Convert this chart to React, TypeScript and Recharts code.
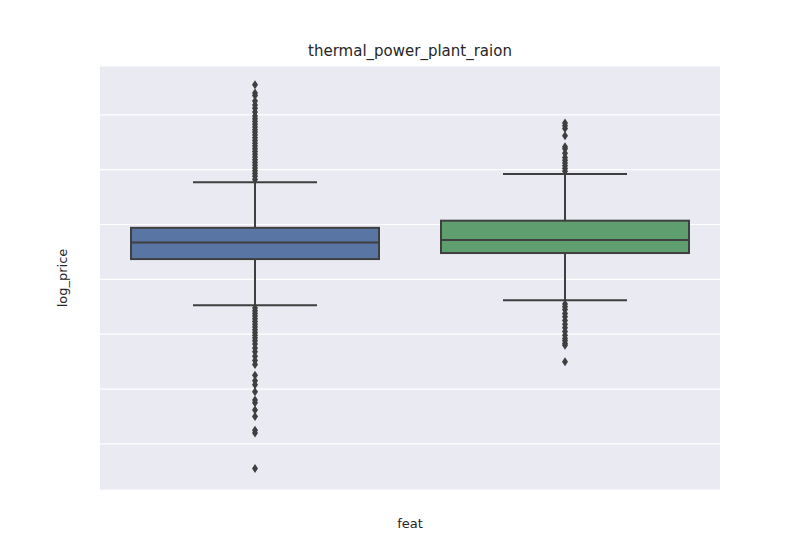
import React from 'react';
import {
  ComposedChart,
  Bar,
  Scatter,
  XAxis,
  YAxis,
  CartesianGrid,
} from 'recharts';

const categories = ['no', 'yes'];
const whiskerLow = [14.53, 14.62];
const whiskerHigh = [16.77, 16.92];
const q1 = [15.37, 15.48];
const median = [15.67, 15.72];
const q3 = [15.94, 16.07];
const boxColors = ['#5875a4', '#5f9e6e'];
const yTicks = [12, 13, 14, 15, 16, 17, 18];

const outliersNo = [
  16.82, 16.88, 16.93, 16.98, 17.03, 17.08, 17.13, 17.18, 17.23, 17.28, 17.33, 17.38,
  17.43, 17.48, 17.53, 17.58, 17.63, 17.68, 17.73, 17.78, 17.83, 17.88, 17.93, 17.98,
  18.05, 18.12, 18.18, 18.25, 18.35, 18.4, 18.55,
  14.48, 14.43, 14.38, 14.33, 14.28, 14.23, 14.18, 14.13, 14.08, 14.03, 13.98, 13.93,
  13.88, 13.82, 13.75, 13.68, 13.6, 13.52, 13.45, 13.25, 13.15, 13.08, 12.95, 12.8,
  12.75, 12.62, 12.5, 12.25, 12.2, 11.55,
];
const outliersYes = [
  16.97, 17.02, 17.07, 17.12, 17.17, 17.22, 17.3, 17.38, 17.42, 17.62, 17.75, 17.8, 17.85,
  14.55, 14.5, 14.45, 14.38, 14.32, 14.25, 14.18, 14.12, 14.05, 13.98, 13.92, 13.88,
  13.83, 13.8, 13.5,
];

const boxData = categories.map((cat, i) => ({
  cat,
  range: [whiskerLow[i], whiskerHigh[i]],
  q1: q1[i],
  med: median[i],
  q3: q3[i],
  color: boxColors[i],
}));

const outlierSets = [outliersNo, outliersYes].map((vals, i) =>
  vals.map(v => ({ cat: categories[i], v }))
);

const line = '#3f3f3f';

const BoxShape = (props: any) => {
  const { x, y, width, height, payload } = props;
  const lo = payload.range[0];
  const hi = payload.range[1];
  const py = (v: number) => y + ((hi - v) * height) / (hi - lo);
  const cx = x + width / 2;
  const capW = width / 2;
  return (
    <g>
      <line x1={cx} x2={cx} y1={y} y2={py(payload.q3)} stroke={line} strokeWidth={2} />
      <line x1={cx} x2={cx} y1={py(payload.q1)} y2={y + height} stroke={line} strokeWidth={2} />
      <line x1={cx - capW / 2} x2={cx + capW / 2} y1={y} y2={y} stroke={line} strokeWidth={2} />
      <line x1={cx - capW / 2} x2={cx + capW / 2} y1={y + height} y2={y + height} stroke={line} strokeWidth={2} />
      <rect x={x} y={py(payload.q3)} width={width} height={py(payload.q1) - py(payload.q3)}
        fill={payload.color} stroke={line} strokeWidth={2} />
      <line x1={x} x2={x + width} y1={py(payload.med)} y2={py(payload.med)} stroke={line} strokeWidth={2} />
    </g>
  );
};

const Diamond = (props: any) => {
  const { cx, cy } = props;
  return <path d={`M${cx},${cy - 4.5}L${cx + 3},${cy}L${cx},${cy + 4.5}L${cx - 3},${cy}Z`} fill={line} />;
};

const tickStyle = { fontFamily: 'DejaVu Sans', fontSize: 13, fill: '#262626' };

export default function App() {
  return (
    <div style={{ position: 'absolute', left: 0, top: 0, width: 800, height: 550, background: '#fff', fontFamily: 'DejaVu Sans' }}>
      <div style={{ position: 'absolute', top: 42, width: 820, textAlign: 'center', fontSize: 15, color: '#262626' }}>
        thermal_power_plant_raion
      </div>
      <div style={{ position: 'absolute', left: 62, top: 278, transform: 'translate(-50%, -50%) rotate(-90deg)', fontSize: 13, color: '#262626' }}>
        log_price
      </div>
      <div style={{ position: 'absolute', top: 516, left: 100, width: 620, textAlign: 'center', fontSize: 13, color: '#262626' }}>
        feat
      </div>
      <ComposedChart width={800} height={550} data={boxData}
        margin={{ top: 66, left: 100, right: 80, bottom: 60 }} barCategoryGap="10%">
        <CartesianGrid fill="#eaeaf2" stroke="#ffffff" strokeWidth={1.2} vertical={false} />
        <XAxis dataKey="cat" type="category" allowDuplicatedCategory={false} axisLine={false} tickLine={false}
          tick={tickStyle} height={0} tickMargin={10} />
        <YAxis type="number" domain={[11.16, 18.89]} ticks={yTicks} axisLine={false} tickLine={false}
          tick={tickStyle} width={0} tickMargin={10} />
        <Bar dataKey="range" shape={BoxShape} isAnimationActive={false} />
        {outlierSets.map((d, i) => (
          <Scatter key={i} data={d} dataKey="v" shape={Diamond} isAnimationActive={false} />
        ))}
      </ComposedChart>
    </div>
  );
}
